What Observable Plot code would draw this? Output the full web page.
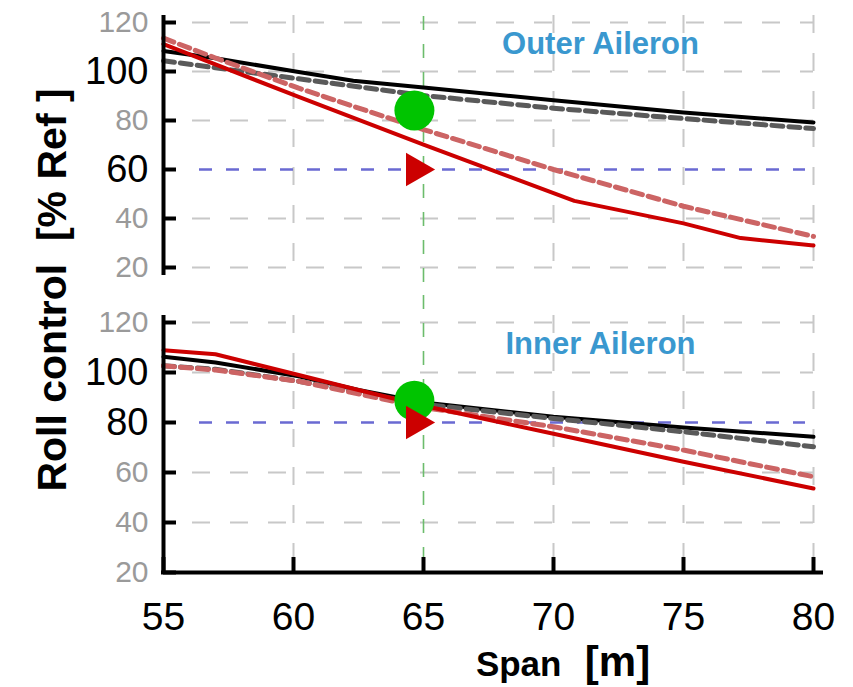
<!DOCTYPE html>
<html><head><meta charset="utf-8">
<script src="https://cdn.jsdelivr.net/npm/d3@7"></script>
<script src="https://cdn.jsdelivr.net/npm/@observablehq/plot@0.6"></script>
<style>
body{margin:0;background:#fff;}
#fig{position:relative;width:853px;height:687px;font-family:"Liberation Sans",Arial,sans-serif;overflow:hidden;}
#fig svg{display:block;position:absolute;left:0;}
.ytitle{position:absolute;left:52px;top:290px;transform:translate(-50%,-50%) rotate(-90deg);font-weight:bold;font-size:41px;white-space:pre;line-height:1;}
.xtitle{position:absolute;left:563px;top:641px;transform:translateX(-50%);font-weight:bold;white-space:pre;line-height:1;}
</style></head>
<body><div id="fig"></div>
<script>
// ---- data ----
const spanTicks = [55, 60, 65, 70, 75, 80];
const rollTicks = [20, 40, 60, 80, 100, 120];
const panelTitles = ["Outer Aileron", "Inner Aileron"];
const requirement = [60, 80];
const boldTicks = [[60, 100], [80, 100]];
const designSpan = 65;

// Outer aileron
const outerBlackSpan = [55, 57, 60.2, 62.3, 65, 70, 75, 80];
const outerBlack     = [108.4, 105.4, 99.8, 96.2, 93.5, 88.3, 83.3, 79.2];
const outerGraySpan  = [55, 57, 60.2, 65, 70, 75, 80];
const outerGray      = [104.4, 101.5, 97, 90.2, 85, 80.8, 76.7];
const outerRedSpan   = [55, 60.2, 65, 70.8, 75, 77.2, 80];
const outerRed       = [111.2, 89.6, 70.2, 47.2, 38, 32, 29];
const outerPinkSpan  = [55, 57, 60.2, 65, 70, 75, 80];
const outerPink      = [113.6, 105.5, 93.2, 76.3, 60, 45, 32.7];
// Inner aileron
const innerBlackSpan = [55, 57, 60.2, 62.5, 65, 70, 75, 80];
const innerBlack     = [106.3, 104, 98.5, 93, 88, 82.3, 78, 74.3];
const innerGraySpan  = [55, 57, 60.2, 65, 70, 75, 80];
const innerGray      = [102.7, 101.3, 96.5, 87.3, 81.6, 76.3, 70.3];
const innerRedSpan   = [55, 57, 60.2, 62.5, 65, 70, 75, 80];
const innerRed       = [108.9, 107.3, 99, 93, 86.7, 75.5, 64.3, 53.6];
const innerPinkSpan  = [55, 57, 60.2, 65, 70, 75, 80];
const innerPink      = [102.7, 101, 96.5, 86, 78.3, 69, 58.3];
// markers
const circleSpan = [64.65, 64.65];
const circleRoll = [84.1, 88.7];
const triSpan = [64.7, 64.7];
const triRoll = [60, 80];

const zip = (xs, ys) => xs.map((x, i) => ({span: x, roll: ys[i]}));
const panels = [
  {black: zip(outerBlackSpan, outerBlack), gray: zip(outerGraySpan, outerGray),
   red: zip(outerRedSpan, outerRed), pink: zip(outerPinkSpan, outerPink)},
  {black: zip(innerBlackSpan, innerBlack), gray: zip(innerGraySpan, innerGray),
   red: zip(innerRedSpan, innerRed), pink: zip(innerPinkSpan, innerPink)}
];

const fig = document.getElementById("fig");
const layout = [
  {top: 0, height: 295, marginTop: 22, marginBottom: 28},
  {top: 295, height: 392, marginTop: 27, marginBottom: 115}
];

panels.forEach((p, i) => {
  const L = layout[i];
  const isBottom = i === 1;
  const grid = {stroke: "#c8c8c8", strokeWidth: 2, strokeDasharray: "18,20"};
  const marks = [
    // horizontal grid
    Plot.ruleY(rollTicks.filter(v => v !== requirement[i] && !(isBottom && v === rollTicks[0])),
      {...grid, insetLeft: 29, insetRight: 0}),
    // vertical grid
    Plot.ruleX(spanTicks.filter(v => v !== spanTicks[0] && v !== designSpan),
      {...grid, insetTop: -7, insetBottom: isBottom ? 0 : -8}),
    // design span line
    Plot.ruleX([designSpan], {stroke: "#6cbc6c", strokeWidth: 1.6, strokeDasharray: "14,14",
      insetTop: isBottom ? -L.marginTop : -6, insetBottom: isBottom ? 10 : -L.marginBottom}),
    // requirement line
    Plot.ruleY([requirement[i]], {stroke: "#6a6ad2", strokeWidth: 2.5, strokeDasharray: "13,14",
      insetLeft: 36, insetRight: 8}),
    // series
    Plot.line(p.black, {x: "span", y: "roll", stroke: "#000", strokeWidth: 4}),
    Plot.line(p.gray, {x: "span", y: "roll", stroke: "#5a5a5a", strokeWidth: 5, strokeDasharray: "11,6"}),
    Plot.line(p.pink, {x: "span", y: "roll", stroke: "#cc6464", strokeWidth: 5, strokeDasharray: "11,6"}),
    Plot.line(p.red, {x: "span", y: "roll", stroke: "#cc0000", strokeWidth: 4}),
    // markers
    Plot.dot([{span: circleSpan[i], roll: circleRoll[i]}], {x: "span", y: "roll", r: 20, fill: "#00c400", stroke: "none"}),
    Plot.dot([{span: triSpan[i], roll: triRoll[i]}], {x: "span", y: "roll", symbol: "triangle", rotate: 90, r: 12.5, fill: "#cc0000", stroke: "none"}),
    // y axis line
    Plot.ruleX([spanTicks[0]], {stroke: "#000", strokeWidth: 4, insetTop: -7, insetBottom: isBottom ? -2 : -8}),
    // y ticks (inward)
    Plot.axisY({ticks: rollTicks, tickSize: -13, strokeWidth: 4, text: null, label: null}),
    // y tick labels
    Plot.axisY({ticks: rollTicks.filter(v => !boldTicks[i].includes(v)), tickSize: 0, tickPadding: 15,
      fontSize: 30, fill: "#9a9a9a", label: null}),
    Plot.axisY({ticks: boldTicks[i], tickSize: 0, tickPadding: 15, fontSize: 38, fill: "#000", label: null}),
    // title
    Plot.text([panelTitles[i]], {frameAnchor: "top", dx: 112, dy: 9, lineAnchor: "top",
      fontSize: 31, fontWeight: "bold", fill: "#3a98cf"})
  ];
  if (isBottom) {
    marks.push(
      Plot.ruleY([rollTicks[0]], {stroke: "#000", strokeWidth: 4, insetLeft: -2, insetRight: -10}),
      Plot.axisX({ticks: spanTicks, tickSize: -15, strokeWidth: 4, text: null, label: null}),
      Plot.axisX({ticks: spanTicks, tickSize: 0, tickPadding: 30, fontSize: 39, fill: "#000", label: null})
    );
  }
  const chart = Plot.plot({
    width: 853, height: L.height,
    marginLeft: 163, marginRight: 40, marginTop: L.marginTop, marginBottom: L.marginBottom,
    x: {domain: [spanTicks[0], spanTicks[spanTicks.length - 1]], axis: isBottom ? undefined : null},
    y: {domain: [rollTicks[0], rollTicks[rollTicks.length - 1]]},
    style: {fontFamily: "Liberation Sans, Arial, sans-serif", background: "transparent", overflow: "visible"},
    marks
  });
  chart.style.top = L.top + "px";
  fig.appendChild(chart);
});

const yt = document.createElement("div");
yt.className = "ytitle";
yt.textContent = "Roll control  [% Ref ]";
fig.appendChild(yt);
const xt = document.createElement("div");
xt.className = "xtitle";
xt.innerHTML = '<span style="font-size:35px">Span</span><span style="font-size:42px">  [m]</span>';
fig.appendChild(xt);
</script>
</body></html>
